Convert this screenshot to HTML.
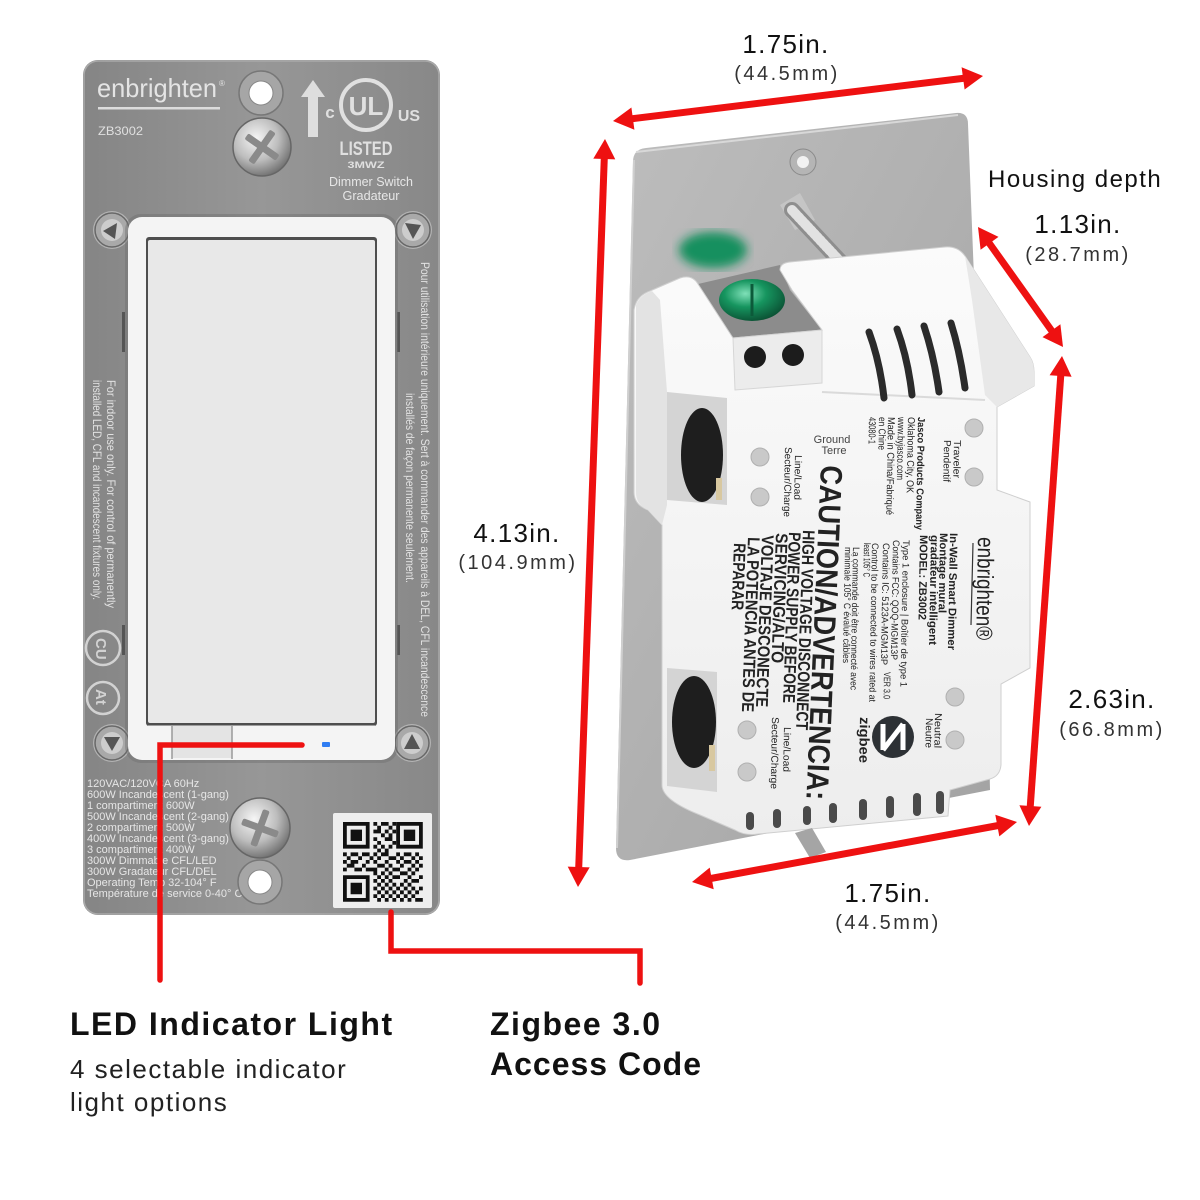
<!DOCTYPE html>
<html><head><meta charset="utf-8">
<style>
html,body{margin:0;padding:0;background:#fff;}
svg{display:block;}
</style></head>
<body>
<svg width="1200" height="1200" viewBox="0 0 1200 1200" xmlns="http://www.w3.org/2000/svg" font-family="'Liberation Sans', Arial, sans-serif">
<defs>
 <linearGradient id="pl" x1="0" y1="0" x2="1" y2="0">
  <stop offset="0" stop-color="#858585"/><stop offset="0.5" stop-color="#979797"/><stop offset="1" stop-color="#888888"/>
 </linearGradient>
 <radialGradient id="scr" cx="0.4" cy="0.35" r="0.7">
  <stop offset="0" stop-color="#f6f6f6"/><stop offset="0.55" stop-color="#bdbdbd"/><stop offset="1" stop-color="#6a6a6a"/>
 </radialGradient>
 <linearGradient id="dp" x1="0" y1="0" x2="1" y2="1">
  <stop offset="0" stop-color="#bdbdbd"/><stop offset="1" stop-color="#a3a3a3"/>
 </linearGradient>
 <linearGradient id="hs" x1="0" y1="0" x2="0" y2="1">
  <stop offset="0" stop-color="#fbfbfb"/><stop offset="1" stop-color="#ededed"/>
 </linearGradient>
 <radialGradient id="grn" cx="0.4" cy="0.35" r="0.7">
  <stop offset="0" stop-color="#7fe0b8"/><stop offset="0.45" stop-color="#16955f"/><stop offset="1" stop-color="#0a4d31"/>
 </radialGradient>
 <filter id="blur"><feGaussianBlur stdDeviation="5"/></filter>
</defs>

<!-- ================= LEFT SWITCH ================= -->
<rect x="83" y="60" width="357" height="855" rx="15" fill="url(#pl)"/>
<rect x="84" y="61" width="355" height="853" rx="14" fill="none" stroke="#a9a9a9" stroke-width="1.5"/>

<text x="97" y="97" font-size="26" fill="#e4e4e4" textLength="120" lengthAdjust="spacingAndGlyphs">enbrighten</text>
<text x="219" y="86" font-size="8" fill="#e4e4e4">®</text>
<rect x="98" y="107" width="122" height="2.5" fill="#dcdcdc"/>
<text x="98" y="135" font-size="12" fill="#e0e0e0" textLength="45" lengthAdjust="spacingAndGlyphs">ZB3002</text>

<!-- top hole + screw -->
<circle cx="261" cy="93" r="22" fill="#a6a6a6" stroke="#777" stroke-width="1.5"/>
<circle cx="261" cy="93" r="12" fill="#ffffff" stroke="#888" stroke-width="1"/>
<circle cx="262" cy="147" r="29" fill="url(#scr)" stroke="#666" stroke-width="1.5"/>
<g transform="translate(262,147) rotate(35)" fill="#8a8a8a">
 <rect x="-19" y="-3.5" width="38" height="7" rx="2"/>
 <rect x="-3.5" y="-19" width="7" height="38" rx="2"/>
</g>

<!-- UL mark -->
<polygon points="313,80 325,97 318,97 318,137 308,137 308,97 301,97" fill="#dedede"/>
<circle cx="366" cy="105" r="25" fill="none" stroke="#e0e0e0" stroke-width="4"/>
<text x="366" y="115" font-size="26" font-weight="bold" fill="#e0e0e0" text-anchor="middle">UL</text>
<text x="330" y="118" font-size="17" font-weight="bold" fill="#e0e0e0" text-anchor="middle">c</text>
<text x="409" y="121" font-size="16" font-weight="bold" fill="#e0e0e0" text-anchor="middle">US</text>
<text x="366" y="155" font-size="19" font-weight="bold" fill="#e0e0e0" text-anchor="middle" textLength="53" lengthAdjust="spacingAndGlyphs">LISTED</text>
<text x="366" y="168" font-size="9" font-weight="bold" fill="#e0e0e0" text-anchor="middle" textLength="37" lengthAdjust="spacingAndGlyphs">3MWZ</text>
<text x="371" y="186" font-size="13" fill="#e6e6e6" text-anchor="middle" textLength="84" lengthAdjust="spacingAndGlyphs">Dimmer Switch</text>
<text x="371" y="200" font-size="13" fill="#e6e6e6" text-anchor="middle" textLength="57" lengthAdjust="spacingAndGlyphs">Gradateur</text>

<!-- side vertical texts -->
<text transform="translate(107,380) rotate(90)" font-size="12" fill="#e2e2e2" textLength="228" lengthAdjust="spacingAndGlyphs">For indoor use only. For control of permanently</text>
<text transform="translate(93,380) rotate(90)" font-size="12" fill="#e2e2e2" textLength="220" lengthAdjust="spacingAndGlyphs">installed LED, CFL and incandescent fixtures only.</text>
<text transform="translate(421,262) rotate(90)" font-size="12" fill="#e2e2e2" textLength="455" lengthAdjust="spacingAndGlyphs">Pour utilisation intérieure uniquement. Sert à commander des appareils à DEL, CFL incandescence</text>
<text transform="translate(406,393) rotate(90)" font-size="12" fill="#e2e2e2" textLength="190" lengthAdjust="spacingAndGlyphs">installés de façon permanente seulement.</text>

<!-- cUL marks -->
<circle cx="103" cy="648" r="17" fill="none" stroke="#d2d2d2" stroke-width="2.5"/>
<text transform="translate(96,638) rotate(90)" font-size="15" font-weight="bold" fill="#d2d2d2">CU</text>
<circle cx="103" cy="698" r="16" fill="none" stroke="#d2d2d2" stroke-width="2.5"/>
<text transform="translate(96,689) rotate(90)" font-size="15" font-weight="bold" fill="#d2d2d2">At</text>

<!-- side tabs -->
<rect x="122" y="312" width="3" height="40" fill="#555"/>
<rect x="397" y="312" width="3" height="40" fill="#555"/>
<rect x="122" y="625" width="3" height="30" fill="#555"/>
<rect x="397" y="625" width="3" height="30" fill="#555"/>

<!-- corner screws -->
<g>
 <circle cx="112" cy="230" r="19" fill="#d0d0d0" opacity="0.6"/>
 <circle cx="112" cy="230" r="17" fill="#a9a9a9" stroke="#686868" stroke-width="1.5"/>
 <circle cx="112" cy="230" r="11" fill="#cdcdcd"/>
 <polygon points="103,231 117,223 115,239" fill="#555"/>
 <circle cx="413" cy="230" r="19" fill="#d0d0d0" opacity="0.6"/>
 <circle cx="413" cy="230" r="17" fill="#a9a9a9" stroke="#686868" stroke-width="1.5"/>
 <circle cx="413" cy="230" r="11" fill="#cdcdcd"/>
 <polygon points="405,223 421,225 413,239" fill="#555"/>
 <circle cx="112" cy="743" r="19" fill="#d0d0d0" opacity="0.6"/>
 <circle cx="112" cy="743" r="17" fill="#a9a9a9" stroke="#686868" stroke-width="1.5"/>
 <circle cx="112" cy="743" r="11" fill="#cdcdcd"/>
 <polygon points="104,737 120,737 112,751" fill="#555"/>
 <circle cx="412" cy="743" r="19" fill="#d0d0d0" opacity="0.6"/>
 <circle cx="412" cy="743" r="17" fill="#a9a9a9" stroke="#686868" stroke-width="1.5"/>
 <circle cx="412" cy="743" r="11" fill="#cdcdcd"/>
 <polygon points="412,734 420,749 404,749" fill="#555"/>
</g>

<!-- paddle frame -->
<rect x="125" y="214" width="273" height="549" rx="16" fill="#6f6f6f" opacity="0.45"/>
<rect x="128" y="217" width="267" height="543" rx="14" fill="#f4f4f4"/>
<rect x="146" y="237" width="231" height="489" rx="3" fill="#4e4e4e"/>
<rect x="148" y="240" width="227" height="483" rx="2" fill="#e8e8e8"/>
<rect x="172" y="726" width="60" height="32" fill="#e4e4e4"/>
<line x1="172" y1="725" x2="172" y2="759" stroke="#9a9a9a" stroke-width="1.5"/>
<line x1="232" y1="725" x2="232" y2="759" stroke="#9a9a9a" stroke-width="1.5"/>
<line x1="148" y1="725.5" x2="375" y2="725.5" stroke="#9d9d9d" stroke-width="1"/>
<!-- LED -->
<rect x="322" y="742" width="8" height="5" rx="1" fill="#2f7df2"/>

<!-- bottom spec text -->
<g font-size="11" fill="#e6e6e6">
 <text x="87" y="787">120VAC/120VCA 60Hz</text>
 <text x="87" y="798">600W Incandescent (1-gang)</text>
 <text x="87" y="809">1 compartiment 600W</text>
 <text x="87" y="820">500W Incandescent (2-gang)</text>
 <text x="87" y="831">2 compartiment 500W</text>
 <text x="87" y="842">400W Incandescent (3-gang)</text>
 <text x="87" y="853">3 compartiment 400W</text>
 <text x="87" y="864">300W Dimmable CFL/LED</text>
 <text x="87" y="875">300W Gradateur CFL/DEL</text>
 <text x="87" y="886">Operating Temp 32-104° F</text>
 <text x="87" y="897">Température de service 0-40° C</text>
</g>

<!-- bottom screw + hole -->
<circle cx="260" cy="828" r="30" fill="url(#scr)" stroke="#666" stroke-width="1.5"/>
<g transform="translate(260,828) rotate(20)" fill="#8a8a8a">
 <rect x="-19" y="-3.5" width="38" height="7" rx="2"/>
 <rect x="-3.5" y="-19" width="7" height="38" rx="2"/>
</g>
<circle cx="260" cy="882" r="22" fill="#a6a6a6" stroke="#777" stroke-width="1.5"/>
<circle cx="260" cy="882" r="12" fill="#ffffff" stroke="#888" stroke-width="1"/>

<!-- QR label -->
<rect x="333" y="813" width="99" height="95" rx="2" fill="#eeeeee"/>
<g transform="translate(343,822) scale(3.8)" fill="#111">
 <path fill-rule="evenodd" d="M0 0h7v7h-7z M1 1v5h5v-5z M2 2h3v3h-3z M14 0h7v7h-7z M15 1v5h5v-5z M16 2h3v3h-3z M0 14h7v7h-7z M1 15v5h5v-5z M2 16h3v3h-3z"/>
 <path d="M8 0h1v1h-1zM10 0h2v1h-2zM13 0h1v1h-1zM9 1h1v1h-1zM12 1h1v1h-1zM8 2h2v1h-2zM11 2h1v1h-1zM13 2h1v1h-1zM10 3h1v1h-1zM12 3h1v1h-1zM8 4h1v1h-1zM11 4h2v1h-2zM9 5h1v1h-1zM13 5h1v1h-1zM8 6h1v1h-1zM10 6h1v1h-1zM12 6h1v1h-1zM9 7h1v1h-1zM11 7h1v1h-1zM0 8h1v1h-1zM2 8h2v1h-2zM5 8h2v1h-2zM8 8h1v1h-1zM10 8h2v1h-2zM14 8h1v1h-1zM16 8h2v1h-2zM19 8h1v1h-1zM1 9h1v1h-1zM4 9h1v1h-1zM7 9h1v1h-1zM9 9h1v1h-1zM12 9h2v1h-2zM15 9h1v1h-1zM18 9h1v1h-1zM20 9h1v1h-1zM0 10h1v1h-1zM2 10h2v1h-2zM6 10h1v1h-1zM8 10h1v1h-1zM11 10h1v1h-1zM14 10h1v1h-1zM16 10h2v1h-2zM19 10h1v1h-1zM1 11h2v1h-2zM5 11h1v1h-1zM9 11h2v1h-2zM12 11h1v1h-1zM15 11h1v1h-1zM18 11h1v1h-1zM20 11h1v1h-1zM0 12h1v1h-1zM3 12h2v1h-2zM6 12h3v1h-3zM11 12h1v1h-1zM13 12h2v1h-2zM17 12h1v1h-1zM19 12h1v1h-1zM8 13h1v1h-1zM10 13h1v1h-1zM12 13h1v1h-1zM15 13h2v1h-2zM18 13h1v1h-1zM9 14h1v1h-1zM11 14h1v1h-1zM13 14h2v1h-2zM17 14h1v1h-1zM20 14h1v1h-1zM8 15h1v1h-1zM10 15h1v1h-1zM12 15h1v1h-1zM16 15h1v1h-1zM18 15h2v1h-2zM9 16h1v1h-1zM11 16h1v1h-1zM13 16h1v1h-1zM15 16h1v1h-1zM17 16h1v1h-1zM8 17h1v1h-1zM10 17h1v1h-1zM12 17h1v1h-1zM14 17h1v1h-1zM16 17h1v1h-1zM18 17h1v1h-1zM20 17h1v1h-1zM9 18h1v1h-1zM11 18h1v1h-1zM13 18h1v1h-1zM15 18h1v1h-1zM17 18h1v1h-1zM19 18h1v1h-1zM8 19h1v1h-1zM10 19h1v1h-1zM12 19h1v1h-1zM14 19h1v1h-1zM16 19h1v1h-1zM18 19h1v1h-1zM9 20h1v1h-1zM11 20h1v1h-1zM13 20h1v1h-1zM15 20h1v1h-1zM17 20h1v1h-1zM19 20h2v1h-2z"/>
</g>

<!-- callout lines -->
<path d="M302 745 H160 V980" fill="none" stroke="#ee1111" stroke-width="5.5" stroke-linecap="round" stroke-linejoin="miter"/>
<path d="M391 912 V951 H640 V983" fill="none" stroke="#ee1111" stroke-width="5.5" stroke-linecap="round" stroke-linejoin="miter"/>

<!-- ================= RIGHT DEVICE ================= -->
<!-- mounting plate -->
<path d="M633 162 Q633 149 646 148 L956 113 Q968 112 968 124 L985 560 L990 790 L630 860 Q616 862 616 848 Z" fill="url(#dp)"/>
<path d="M636 152 L958 115" stroke="#d8d8d8" stroke-width="2" fill="none"/>
<path d="M634 160 L617 848" stroke="#cfcfcf" stroke-width="2" fill="none"/>

<!-- plate hole + screw rod -->
<circle cx="803" cy="162" r="13" fill="#b5b5b5" stroke="#8a8a8a" stroke-width="1"/>
<circle cx="803" cy="162" r="6" fill="#f2f2f2"/>
<polygon points="780,205 800,193 815,220 795,230" fill="#c9c9c9" opacity="0.8"/>
<line x1="792" y1="210" x2="850" y2="272" stroke="#8e8e8e" stroke-width="16" stroke-linecap="round"/>
<line x1="792" y1="210" x2="850" y2="272" stroke="#e2e2e2" stroke-width="10" stroke-linecap="round" stroke-dasharray="2.5 2"/>

<!-- green blurred screw on plate -->
<ellipse cx="713" cy="250" rx="34" ry="18" fill="#17905f" filter="url(#blur)"/>

<!-- recess metal + green screw -->
<polygon points="698,284 780,265 790,290 822,330 733,338" fill="#8c8c8c"/>
<ellipse cx="752" cy="300" rx="33" ry="21" fill="url(#grn)"/>
<line x1="752" y1="284" x2="752" y2="316" stroke="#0c5a3a" stroke-width="3"/>

<!-- housing -->
<path d="M634 310 Q636 296 650 291 L680 278 Q692 274 698 284 L733 338 L822 330 L792 290 L780 270 Q780 263 790 262 L945 247 Q958 246 965 256 L1030 357 Q1034 363 1034 372 L1034 386 L997 407 L997 490 L1030 502 L1030 668 L1001 684 L1001 765 Q1000 776 990 779 L950 790 L948 816 L758 834 Q745 836 735 830 L700 815 Q662 800 662 785 L662 525 L648 510 Q634 505 634 492 Z" fill="url(#hs)" stroke="#cfcfcf" stroke-width="1"/>

<!-- housing shading -->
<path d="M636 305 Q640 295 652 291 L660 300 L667 392 L667 505 L662 525 L648 510 Q636 505 636 492 Z" fill="#e3e3e3"/>
<path d="M965 256 L1030 357 Q1034 363 1034 372 L1034 386 L997 407 L985 395 L972 300 Z" fill="#e8e8e8"/>
<path d="M733 338 L822 330 L822 383 L735 390 Z" fill="#ececec" stroke="#d6d6d6" stroke-width="1"/>
<path d="M822 392 L985 400" stroke="#dadada" stroke-width="2"/>

<!-- terminal holes -->
<circle cx="755" cy="357" r="11" fill="#1c1c1c"/>
<circle cx="793" cy="355" r="11" fill="#1c1c1c"/>

<!-- top vents -->
<g fill="none" stroke="#2b2b2b" stroke-width="7" stroke-linecap="round">
 <path d="M869 332 Q880 362 884 398"/>
 <path d="M897 329 Q908 359 912 395"/>
 <path d="M924 326 Q934 356 939 392"/>
 <path d="M951 323 Q960 352 965 388"/>
</g>

<!-- side recesses with black terminal screws -->
<polygon points="667,392 727,398 727,505 667,500" fill="#d4d4d4"/>
<ellipse cx="702" cy="455" rx="21" ry="47" fill="#1e1e1e"/>
<rect x="716" y="478" width="6" height="22" fill="#d8c8a0"/>
<polygon points="667,668 717,672 717,792 667,786" fill="#d4d4d4"/>
<ellipse cx="694" cy="722" rx="22" ry="46" fill="#1e1e1e"/>
<rect x="709" y="745" width="6" height="26" fill="#d8c8a0"/>

<!-- dimple holes -->
<g fill="#c9c9c9" stroke="#b0b0b0" stroke-width="1">
 <circle cx="760" cy="457" r="9"/><circle cx="760" cy="497" r="9"/>
 <circle cx="974" cy="428" r="9"/><circle cx="974" cy="477" r="9"/>
 <circle cx="747" cy="730" r="9"/><circle cx="747" cy="772" r="9"/>
 <circle cx="955" cy="697" r="9"/><circle cx="955" cy="740" r="9"/>
</g>

<!-- bottom vents -->
<g fill="#4a4a4a">
 <rect x="746" y="812" width="8" height="18" rx="4"/>
 <rect x="773" y="809" width="8" height="19" rx="4"/>
 <rect x="803" y="806" width="8" height="19" rx="4"/>
 <rect x="829" y="803" width="8" height="20" rx="4"/>
 <rect x="859" y="799" width="8" height="21" rx="4"/>
 <rect x="886" y="796" width="8" height="22" rx="4"/>
 <rect x="913" y="793" width="8" height="23" rx="4"/>
 <rect x="936" y="791" width="8" height="23" rx="4"/>
</g>
<polygon points="795,833 812,828 826,852 810,858" fill="#a5a5a5"/>

<!-- housing label text -->
<g fill="#222">
 <text transform="translate(978,537) rotate(91)" font-size="23" textLength="103" lengthAdjust="spacingAndGlyphs">enbrighten®</text>
 <line x1="973" y1="543" x2="971" y2="625" stroke="#333" stroke-width="1.2"/>
 <g font-weight="bold" font-size="11">
  <text transform="translate(950,533) rotate(91)" textLength="117" lengthAdjust="spacingAndGlyphs">In-Wall Smart Dimmer</text>
  <text transform="translate(940,533) rotate(91)" textLength="80" lengthAdjust="spacingAndGlyphs">Montage mural</text>
  <text transform="translate(931,535) rotate(91)" textLength="110" lengthAdjust="spacingAndGlyphs">gradateur intelligent</text>
  <text transform="translate(920,535) rotate(91)" textLength="85" lengthAdjust="spacingAndGlyphs">MODEL: ZB3002</text>
 </g>
 <g font-size="9.5">
  <text transform="translate(903,540) rotate(91)" textLength="147" lengthAdjust="spacingAndGlyphs">Type 1 enclosure | Boîtier de type 1</text>
  <text transform="translate(893,540) rotate(91)" textLength="120" lengthAdjust="spacingAndGlyphs">Contains FCC: QOQ-MGM13P</text>
  <text transform="translate(883,543) rotate(91)" textLength="122" lengthAdjust="spacingAndGlyphs">Contains IC: 5123A-MGM13P</text>
  <text transform="translate(884,672) rotate(91)" textLength="27" lengthAdjust="spacingAndGlyphs">VER 3.0</text>
  <text transform="translate(872,543) rotate(91)" textLength="159" lengthAdjust="spacingAndGlyphs">Control to be connected to wires rated at</text>
  <text transform="translate(864,543) rotate(91)" textLength="34" lengthAdjust="spacingAndGlyphs">least 105° C</text>
  <text transform="translate(853,547) rotate(91)" textLength="143" lengthAdjust="spacingAndGlyphs">La commande doit être connecté avec</text>
  <text transform="translate(845,547) rotate(91)" textLength="116" lengthAdjust="spacingAndGlyphs">minimale 105° C évalué câbles</text>
 </g>
 <text transform="translate(821,465) rotate(92.5)" font-size="31" font-weight="bold" textLength="335" lengthAdjust="spacingAndGlyphs">CAUTION/ADVERTENCIA:</text>
 <g font-size="17" font-weight="bold">
  <text transform="translate(803,530) rotate(92)" textLength="200" lengthAdjust="spacingAndGlyphs">HIGH VOLTAGE DISCONNECT</text>
  <text transform="translate(789,532) rotate(92)" textLength="171" lengthAdjust="spacingAndGlyphs">POWER SUPPLY BEFORE</text>
  <text transform="translate(776,533) rotate(92)" textLength="130" lengthAdjust="spacingAndGlyphs">SERVICING/ALTO</text>
  <text transform="translate(762,535) rotate(92)" textLength="172" lengthAdjust="spacingAndGlyphs">VOLTAJE DESCONECTE</text>
  <text transform="translate(748,537) rotate(92)" textLength="175" lengthAdjust="spacingAndGlyphs">LA POTENCIA ANTES DE</text>
  <text transform="translate(734,543) rotate(92)" textLength="67" lengthAdjust="spacingAndGlyphs">REPARAR</text>
 </g>
 <g font-size="10">
  <text transform="translate(918,417) rotate(91)" font-weight="bold" textLength="113" lengthAdjust="spacingAndGlyphs">Jasco Products Company</text>
  <text transform="translate(908,417) rotate(91)" textLength="76" lengthAdjust="spacingAndGlyphs">Oklahoma City, OK</text>
  <text transform="translate(898,417) rotate(91)" textLength="63" lengthAdjust="spacingAndGlyphs">www.byjasco.com</text>
  <text transform="translate(888,417) rotate(91)" textLength="98" lengthAdjust="spacingAndGlyphs">Made in China/Fabriqué</text>
  <text transform="translate(879,417) rotate(91)" textLength="33" lengthAdjust="spacingAndGlyphs">en Chine</text>
  <text transform="translate(869,417) rotate(91)" textLength="27" lengthAdjust="spacingAndGlyphs">43080-1</text>
  <text transform="translate(954,440) rotate(91)" textLength="38" lengthAdjust="spacingAndGlyphs">Traveler</text>
  <text transform="translate(944,440) rotate(91)" textLength="42" lengthAdjust="spacingAndGlyphs">Pendentif</text>
  <text transform="translate(795,455) rotate(91)" textLength="45" lengthAdjust="spacingAndGlyphs">Line/Load</text>
  <text transform="translate(785,447) rotate(91)" textLength="70" lengthAdjust="spacingAndGlyphs">Secteur/Charge</text>
  <text transform="translate(784,727) rotate(91)" textLength="45" lengthAdjust="spacingAndGlyphs">Line/Load</text>
  <text transform="translate(772,717) rotate(91)" textLength="72" lengthAdjust="spacingAndGlyphs">Secteur/Charge</text>
  <text transform="translate(935,713) rotate(91)" textLength="35" lengthAdjust="spacingAndGlyphs">Neutral</text>
  <text transform="translate(926,718) rotate(91)" textLength="30" lengthAdjust="spacingAndGlyphs">Neutre</text>
  <text x="832" y="443" font-size="11" text-anchor="middle" fill="#444">Ground</text>
  <text x="834" y="454" font-size="11" text-anchor="middle" fill="#444">Terre</text>
 </g>
 <text transform="translate(860,717) rotate(91)" font-size="14" font-weight="bold" textLength="46" lengthAdjust="spacingAndGlyphs">zigbee</text>
</g>
<circle cx="893" cy="737" r="21" fill="#2d3135"/>
<path d="M903 724 L903 750 M883 724 L883 750 M903 724 L883 750" stroke="#fff" stroke-width="5" fill="none"/>

<!-- ================= DIMENSION ARROWS ================= -->
<g stroke="#ee1111" stroke-width="7" stroke-linecap="butt">
 <line x1="630" y1="119" x2="966" y2="78"/>
 <line x1="604.4" y1="155" x2="578.6" y2="871"/>
 <line x1="987" y1="240" x2="1054" y2="334"/>
 <line x1="1061" y1="372" x2="1030" y2="810"/>
 <line x1="708" y1="879" x2="1001" y2="825"/>
</g>
<g fill="#ee1111">
 <polygon points="983,76 964.6,89.5 961.6,67.3"/>
 <polygon points="613,121 634.4,129.7 631.4,107.5"/>
 <polygon points="605,139 615.3,159.4 593.3,158.6"/>
 <polygon points="578,887 589.7,867.4 567.7,866.6"/>
 <polygon points="978,227 998.5,236.9 980.6,249.7"/>
 <polygon points="1063,347 1060.4,324.3 1042.5,337.1"/>
 <polygon points="1062,356 1071.6,376.8 1049.6,375.2"/>
 <polygon points="1029,826 1041.4,806.8 1019.4,805.2"/>
 <polygon points="1017,822 999.3,836.4 995.3,814.8"/>
 <polygon points="692,882 713.7,889.2 709.7,867.6"/>
</g>

<!-- ================= LABELS ================= -->
<g fill="#111">
 <text x="786" y="53" font-size="26" letter-spacing="1.3" text-anchor="middle">1.75in.</text>
 <text x="787" y="80" font-size="20" letter-spacing="2.5" text-anchor="middle" fill="#333">(44.5mm)</text>
 <text x="517" y="542" font-size="26" letter-spacing="1.3" text-anchor="middle">4.13in.</text>
 <text x="518" y="569" font-size="20" letter-spacing="2.5" text-anchor="middle" fill="#333">(104.9mm)</text>
 <text x="988" y="187" font-size="24" letter-spacing="1.5">Housing depth</text>
 <text x="1078" y="233" font-size="26" letter-spacing="1.3" text-anchor="middle">1.13in.</text>
 <text x="1078" y="261" font-size="20" letter-spacing="2.5" text-anchor="middle" fill="#333">(28.7mm)</text>
 <text x="1112" y="708" font-size="26" letter-spacing="1.3" text-anchor="middle">2.63in.</text>
 <text x="1112" y="736" font-size="20" letter-spacing="2.5" text-anchor="middle" fill="#333">(66.8mm)</text>
 <text x="888" y="902" font-size="26" letter-spacing="1.3" text-anchor="middle">1.75in.</text>
 <text x="888" y="929" font-size="20" letter-spacing="2.5" text-anchor="middle" fill="#333">(44.5mm)</text>

 <text x="70" y="1035" font-size="32" font-weight="bold" letter-spacing="1.5">LED Indicator Light</text>
 <text x="70" y="1078" font-size="26" letter-spacing="1.5" fill="#222">4 selectable indicator</text>
 <text x="70" y="1111" font-size="26" letter-spacing="1.5" fill="#222">light options</text>
 <text x="490" y="1035" font-size="32" font-weight="bold" letter-spacing="1.5">Zigbee 3.0</text>
 <text x="490" y="1075" font-size="32" font-weight="bold" letter-spacing="1">Access Code</text>
</g>
</svg>
</body>
</html>
